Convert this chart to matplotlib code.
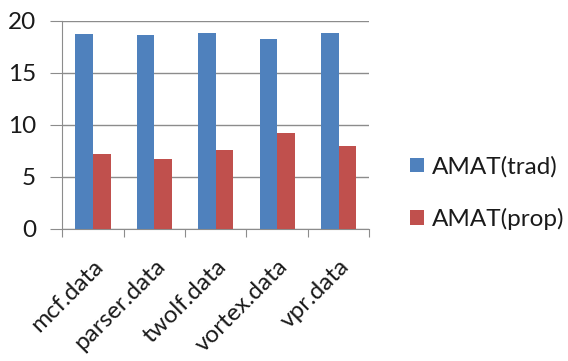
import matplotlib.pyplot as plt
import numpy as np

# AMAT per benchmark, traditional vs proposed
benchmarks = ["mcf.data", "parser.data", "twolf.data", "vortex.data", "vpr.data"]
amat_trad = [18.7, 18.6, 18.8, 18.2, 18.8]
amat_prop = [7.2, 6.7, 7.55, 9.2, 7.95]

plt.rcParams["font.family"] = ["Lato", "DejaVu Sans"]

fig = plt.figure(figsize=(5.68, 3.61), dpi=100)
ax = fig.add_axes([0.1097, 0.3665, 0.5403, 0.576])

x = np.arange(len(benchmarks))
w = 1 / 3.5
ax.bar(x - w / 2, amat_trad, w, color="#4F81BD", label="AMAT(trad)", zorder=3)
ax.bar(x + w / 2, amat_prop, w, color="#C0504D", label="AMAT(prop)", zorder=3)

ax.set_xlim(-0.5, len(benchmarks) - 0.5)
ax.set_ylim(0, 20)
ax.set_yticks([0, 5, 10, 15, 20])
ax.yaxis.grid(True, color="#8c8c8c", linewidth=1, zorder=0)

for side in ("top", "right"):
    ax.spines[side].set_visible(False)
for side in ("left", "bottom"):
    ax.spines[side].set_color("#8c8c8c")

# category boundaries get the tick marks, labels sit under the centres
ax.set_xticks(np.arange(len(benchmarks) + 1) - 0.5)
ax.set_xticklabels([])
ax.tick_params(axis="x", direction="out", length=6, color="#8c8c8c")
ax.tick_params(axis="y", direction="out", length=9, color="#8c8c8c",
               labelsize=17.5, pad=10, labelcolor="#1a1a1a")
for i, name in enumerate(benchmarks):
    ax.text(i + 0.12, -3.3, name, rotation=45, ha="right", va="center",
            rotation_mode="anchor", fontsize=17.5, color="#1a1a1a")

ax.legend(loc="center left", bbox_to_anchor=(0.684, 0.465),
          bbox_transform=fig.transFigure, frameon=False, fontsize=17.5,
          handlelength=0.55, handleheight=0.55, handletextpad=0.35,
          labelspacing=1.25, labelcolor="#1a1a1a")

fig.savefig("out.png", dpi=100)
